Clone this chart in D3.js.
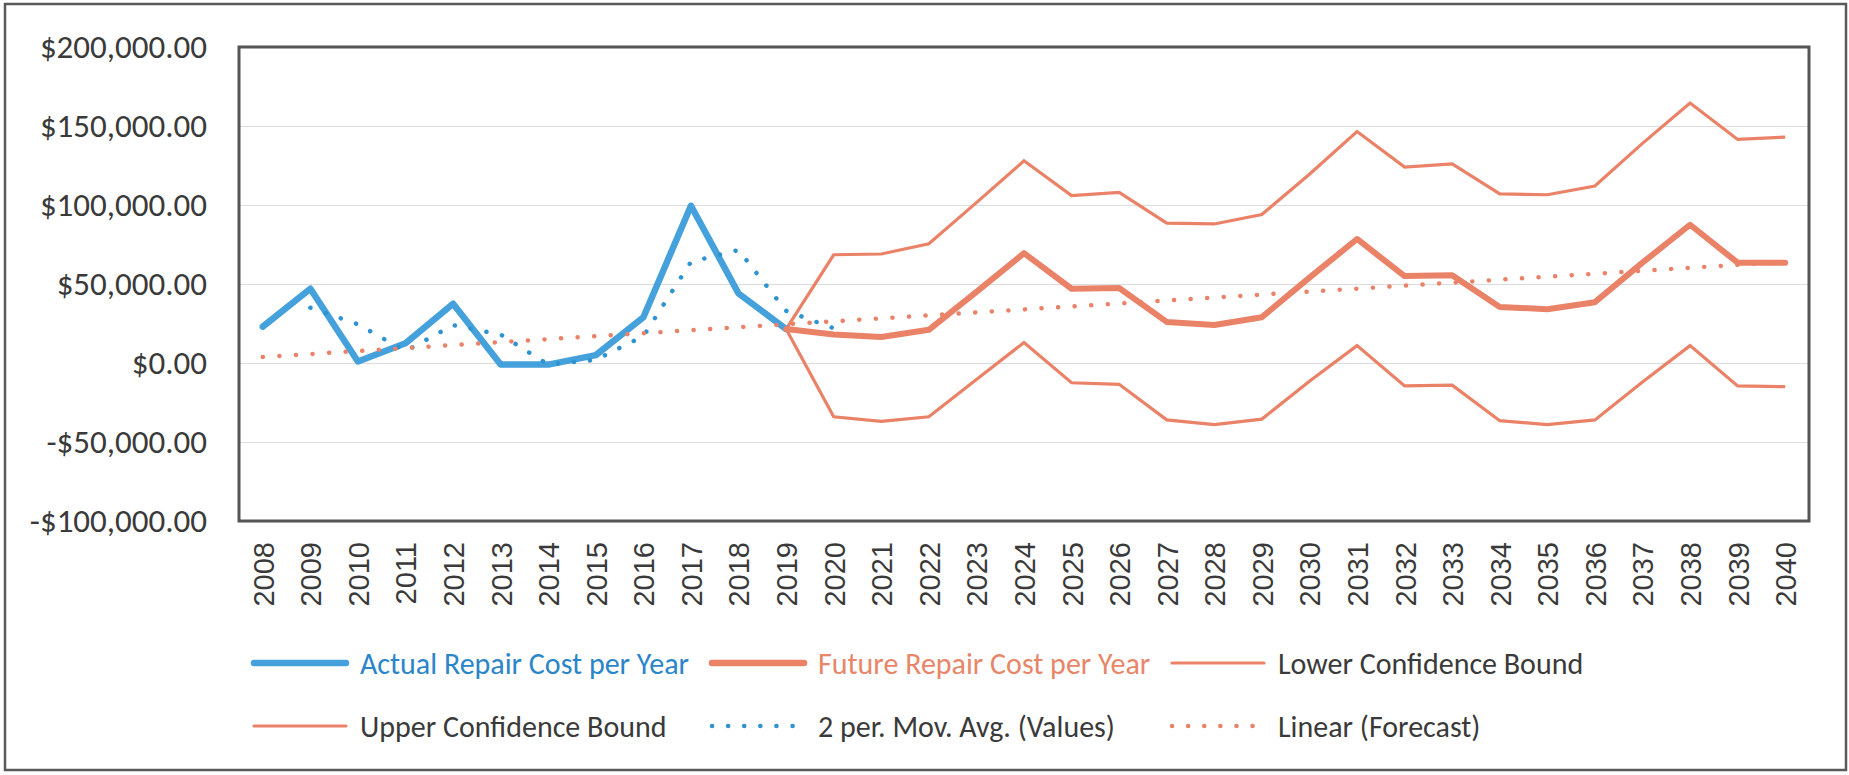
<!DOCTYPE html>
<html><head><meta charset="utf-8">
<script src="https://cdn.jsdelivr.net/npm/d3@7"></script>
<style>html,body{margin:0;padding:0;background:#fff;} svg{display:block}</style>
</head><body>
<svg id="chart" width="1849" height="775"></svg>
<script>
const years = ["2008","2009","2010","2011","2012","2013","2014","2015","2016","2017","2018","2019","2020","2021","2022","2023","2024","2025","2026","2027","2028","2029","2030","2031","2032","2033","2034","2035","2036","2037","2038","2039","2040"];
const actualYears = ["2008","2009","2010","2011","2012","2013","2014","2015","2016","2017","2018","2019"];
const actualValues = [23000, 47000, 1000, 12500, 37500, -1000, -1000, 5000, 29000, 99500, 44000, 21500];
const futureYears = ["2019","2020","2021","2022","2023","2024","2025","2026","2027","2028","2029","2030","2031","2032","2033","2034","2035","2036","2037","2038","2039","2040"];
const futureValues = [21500, 18000, 16500, 21000, 45000, 69500, 47000, 47500, 26000, 24000, 29000, 54000, 78500, 55000, 55500, 35500, 34000, 38500, 63500, 87500, 63500, 63500];
const lowerValues = [21500, -34000, -37000, -34000, -10500, 13000, -12500, -13500, -36000, -39000, -35500, -11500, 11000, -14500, -14000, -36500, -39000, -36000, -12000, 11000, -14500, -15000];
const upperValues = [21500, 68500, 69000, 75500, 101500, 128000, 106000, 108000, 88500, 88000, 94000, 119500, 146500, 124000, 126000, 107000, 106500, 112000, 139000, 164500, 141500, 143000];
const movAvgYears = ["2009","2010","2011","2012","2013","2014","2015","2016","2017","2018","2019","2020"];
const movAvgValues = [35000, 24500, 7500, 24000, 18000, -1000, 2000, 17000, 64000, 71500, 33000, 22000];
const linearYears = ["2008","2040"];
const linearValues = [3800, 64000];
const yTicks = [-100000, -50000, 0, 50000, 100000, 150000, 200000];
const legendNames = ["Actual Repair Cost per Year","Future Repair Cost per Year","Lower Confidence Bound","Upper Confidence Bound","2 per. Mov. Avg. (Values)","Linear (Forecast)"];

const BLUE = "#45a1dc", BLUE_DOT = "#2f93d2", ORANGE = "#ea8268", GRAY = "#3a3a3a";
const svg = d3.select("#chart");
const L = 239, R = 1809, T = 47, B = 521;

const x = d3.scalePoint().domain(years).range([L, R]).padding(0.5);
const y = d3.scaleLinear().domain([-100000, 200000]).range([B, T]);
const loc = d3.formatLocale({decimal: ".", thousands: ",", grouping: [3], currency: ["$", ""], minus: "-"});
const fmt = loc.format("$,.2f");

// outer border
svg.append("rect").attr("x", 5).attr("y", 4).attr("width", 1841).attr("height", 766)
  .attr("fill", "#fff").attr("stroke", "#5a5a5a").attr("stroke-width", 2.5);

// gridlines
svg.append("g").attr("transform", `translate(${L},0)`)
  .call(d3.axisLeft(y).tickValues(yTicks).tickSize(-(R - L)).tickFormat(""))
  .call(g => g.select(".domain").remove())
  .call(g => g.selectAll("line").attr("stroke", "#dcdcdc").attr("stroke-width", 1.2));

// y labels
svg.append("g").attr("transform", `translate(207,0)`)
  .call(d3.axisLeft(y).tickValues(yTicks).tickSize(0).tickPadding(0).tickFormat(fmt))
  .call(g => g.select(".domain").remove())
  .call(g => g.selectAll("text").attr("fill", GRAY)
    .style("font-family", "Carlito, Lato, sans-serif").style("font-size", "33px"));

// x labels
svg.append("g").attr("transform", `translate(0,${B})`)
  .call(d3.axisBottom(x).tickSize(0))
  .call(g => g.select(".domain").remove())
  .call(g => g.selectAll("text").attr("fill", GRAY)
    .style("font-family", "'Liberation Sans', Arial, sans-serif").style("font-size", "29px")
    .attr("transform", "rotate(-90)").attr("text-anchor", "end")
    .attr("x", -21).attr("y", 0).attr("dy", "0.36em"));

const line = d3.line().x(d => x(d[0])).y(d => y(d[1]));
const zip = (a, b) => a.map((k, i) => [k, b[i]]);

const plot = svg.append("g");
plot.append("path").datum(zip(futureYears, lowerValues)).attr("d", line)
  .attr("fill", "none").attr("stroke", ORANGE).attr("stroke-width", 3.2);
plot.append("path").datum(zip(futureYears, upperValues)).attr("d", line)
  .attr("fill", "none").attr("stroke", ORANGE).attr("stroke-width", 3.2);
plot.append("path").datum(zip(actualYears, actualValues)).attr("d", line)
  .attr("fill", "none").attr("stroke", BLUE).attr("stroke-width", 6.5).attr("stroke-linejoin", "round").attr("stroke-linecap", "round");
plot.append("path").datum(zip(futureYears, futureValues)).attr("d", line)
  .attr("fill", "none").attr("stroke", ORANGE).attr("stroke-width", 6).attr("stroke-linejoin", "round").attr("stroke-linecap", "round");
plot.append("path").datum(zip(movAvgYears, movAvgValues)).attr("d", line)
  .attr("fill", "none").attr("stroke", BLUE_DOT).attr("stroke-width", 4.5)
  .attr("stroke-linecap", "round").attr("stroke-dasharray", "0.1 16");
plot.append("path").datum(zip(linearYears, linearValues)).attr("d", line)
  .attr("fill", "none").attr("stroke", ORANGE).attr("stroke-width", 4.5)
  .attr("stroke-linecap", "round").attr("stroke-dasharray", "0.1 16.5");

// plot frame
svg.append("rect").attr("x", L).attr("y", T).attr("width", R - L).attr("height", B - T)
  .attr("fill", "none").attr("stroke", "#555").attr("stroke-width", 3);

// legend
const legendStyles = [
  {w: 6.5, c: BLUE, dash: null, tc: "#2a86c9"},
  {w: 6.5, c: ORANGE, dash: null, tc: "#e8866a"},
  {w: 3.2, c: ORANGE, dash: null, tc: GRAY},
  {w: 3.2, c: ORANGE, dash: null, tc: GRAY},
  {w: 4.5, c: BLUE_DOT, dash: "0.1 16", tc: GRAY},
  {w: 4.5, c: ORANGE, dash: "0.1 16", tc: GRAY}
];
const colX = [252, 710, 1170], rowY = [663, 726];
const lg = svg.append("g");
legendNames.forEach((name, i) => {
  const cx = colX[i % 3], cy = rowY[Math.floor(i / 3)], s = legendStyles[i];
  const ln = lg.append("line").attr("x1", cx + 2).attr("x2", cx + 94).attr("y1", cy).attr("y2", cy)
    .attr("stroke", s.c).attr("stroke-width", s.w).attr("stroke-linecap", "round");
  if (s.dash) ln.attr("stroke-dasharray", s.dash);
  lg.append("text").attr("x", cx + 108).attr("y", cy).attr("dy", "0.35em").text(name)
    .attr("fill", s.tc).style("font-family", "Carlito, Lato, sans-serif").style("font-size", "30px");
});
</script>
</body></html>
